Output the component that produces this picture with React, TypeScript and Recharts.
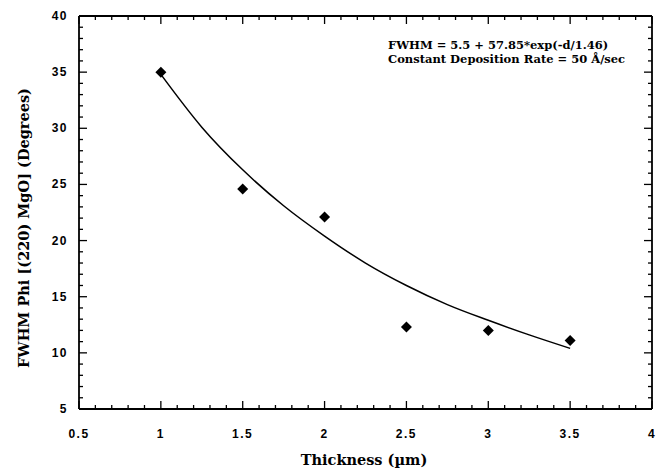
import { ComposedChart, Line, Scatter, XAxis, YAxis, Customized } from 'recharts'

// measured points
const thickness = [1, 1.5, 2, 2.5, 3, 3.5]
const fwhm = [35, 24.6, 22.1, 12.3, 12, 11.1]

// fitted curve
const fitThickness = [1, 1.25, 1.5, 1.75, 2, 2.25, 2.5, 2.75, 3, 3.25, 3.5]
const fitFwhm = [34.8, 30.1, 26.3, 23.1, 20.4, 18.0, 16.0, 14.3, 12.9, 11.6, 10.4]

// major ticks are labelled, minor ticks sit every 0.1 on x and every 1 on y
const xMajorTicks = [0.5, 1, 1.5, 2, 2.5, 3, 3.5, 4]
const yMajorTicks = [5, 10, 15, 20, 25, 30, 35, 40]
const xTicks = xMajorTicks.flatMap((v, i) => (i === 0 ? [v] : [1, 2, 3, 4, 5].map((k) => +(v - 0.5 + k / 10).toFixed(1))))
const yTicks = yMajorTicks.flatMap((v, i) => (i === 0 ? [v] : [1, 2, 3, 4, 5].map((k) => v - 5 + k)))

const points = thickness.map((x, i) => ({ x, y: fwhm[i] }))
const fit = fitThickness.map((x, i) => ({ x, y: fitFwhm[i] }))

const tickFont = 'Liberation Sans, Arial, sans-serif'
const serif = 'DejaVu Serif, serif'

const isMajorX = (v: number) => xMajorTicks.includes(v)
const isMajorY = (v: number) => yMajorTicks.includes(v)

function BottomTick({ x, y, payload }: any) {
  const major = isMajorX(payload.value)
  return (
    <g>
      <line x1={x} x2={x} y1={y} y2={y - (major ? 8 : 4)} stroke='#000' strokeWidth={1.3} />
      {major && (
        <text x={x} y={y + 29} textAnchor='middle' fontFamily={tickFont} fontWeight='bold' fontSize={12} letterSpacing={1.5} fill='#000'>
          {payload.value}
        </text>
      )}
    </g>
  )
}

function TopTick({ x, y, payload }: any) {
  const major = isMajorX(payload.value)
  return <line x1={x} x2={x} y1={y} y2={y + (major ? 8 : 4)} stroke='#000' strokeWidth={1.3} />
}

function LeftTick({ x, y, payload }: any) {
  const major = isMajorY(payload.value)
  return (
    <g>
      <line x1={x} x2={x + (major ? 8 : 4)} y1={y} y2={y} stroke='#000' strokeWidth={1.3} />
      {major && (
        <text x={x - 11} y={y + 4} textAnchor='end' fontFamily={tickFont} fontWeight='bold' fontSize={12} letterSpacing={1.5} fill='#000'>
          {payload.value}
        </text>
      )}
    </g>
  )
}

function RightTick({ x, y, payload }: any) {
  const major = isMajorY(payload.value)
  return <line x1={x} x2={x - (major ? 8 : 4)} y1={y} y2={y} stroke='#000' strokeWidth={1.3} />
}

function Diamond({ cx, cy }: any) {
  const r = 5.5
  return <path d={`M${cx},${cy - r}L${cx + r},${cy}L${cx},${cy + r}L${cx - r},${cy}Z`} fill='#000' />
}

function Titles() {
  return (
    <g fontFamily={serif} fontWeight='bold' fill='#000'>
      <text x={364} y={465} textAnchor='middle' fontSize={14.5}>Thickness (µm)</text>
      <text x={29} y={228} textAnchor='middle' fontSize={14.5} transform='rotate(-90 29 228)'>
        FWHM Phi [(220) MgO] (Degrees)
      </text>
      <text x={388} y={49} fontSize={11.5}>FWHM = 5.5 + 57.85*exp(-d/1.46)</text>
      <text x={388} y={63} fontSize={11.5}>Constant Deposition Rate = 50 Å/sec</text>
    </g>
  )
}

const axisLine = { stroke: '#000', strokeWidth: 1.8 }

export default function App() {
  return (
    <div style={{ position: 'absolute', left: 0, top: 0, width: 661, height: 474, background: '#fff' }}>
      <ComposedChart width={661} height={474} margin={{ top: 0, right: 0, bottom: 0, left: 0 }}>
        <XAxis xAxisId='b' dataKey='x' type='number' domain={[0.5, 4]} ticks={xTicks} interval={0}
          height={65} tickSize={0} tickMargin={0} tick={(p: any) => <BottomTick {...p} />} axisLine={axisLine} tickLine={false} />
        <XAxis xAxisId='t' dataKey='x' type='number' domain={[0.5, 4]} ticks={xTicks} interval={0} orientation='top'
          height={16} tickSize={0} tickMargin={0} tick={(p: any) => <TopTick {...p} />} axisLine={axisLine} tickLine={false} />
        <YAxis yAxisId='l' dataKey='y' type='number' domain={[5, 40]} ticks={yTicks} interval={0}
          width={79} tickSize={0} tickMargin={0} tick={(p: any) => <LeftTick {...p} />} axisLine={axisLine} tickLine={false} />
        <YAxis yAxisId='r' dataKey='y' type='number' domain={[5, 40]} ticks={yTicks} interval={0} orientation='right'
          width={9} tickSize={0} tickMargin={0} tick={(p: any) => <RightTick {...p} />} axisLine={axisLine} tickLine={false} />
        <Line xAxisId='b' yAxisId='l' data={fit} dataKey='y' type='monotone' stroke='#000' strokeWidth={1.5} dot={false} isAnimationActive={false} />
        <Scatter xAxisId='t' yAxisId='r' data={points} dataKey='y' shape={(p: any) => <Diamond {...p} />} isAnimationActive={false} />
        <Customized component={<Titles />} />
      </ComposedChart>
    </div>
  )
}
